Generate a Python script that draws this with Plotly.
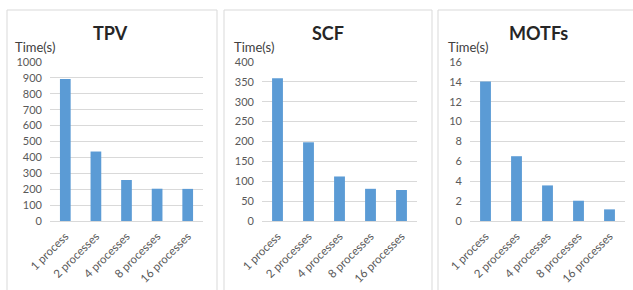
import plotly.graph_objects as go

W, H = 633, 290

categories = ["1 process", "2 processes", "4 processes", "8 processes", "16 processes"]
tpv_values = [893, 437, 258, 203, 202]
scf_values = [359, 198, 112, 81, 78]
motfs_values = [14.05, 6.52, 3.58, 2.04, 1.17]

titles = ["TPV", "SCF", "MOTFs"]
y_ranges = [(0, 1000, 100), (0, 400, 50), (0, 16, 2)]
series = [tpv_values, scf_values, motfs_values]

# pixel layout
plot_x = [(50, 203), (262, 417), (470, 625)]
plot_y_top, plot_y_bot = 62, 221
panel_x = [(7, 217), (224, 432), (438, 645)]
title_cx = [110, 328, 538]
ytitle_x = [13, 232, 446]

FONT = "Lato"
BAR = "#5B9BD5"
GRID = "#D9D9D9"
TXT = "#595959"

fig = go.Figure()
shapes = []
annotations = []
for i in range(3):
    xa = "x" if i == 0 else f"x{i+1}"
    ya = "y" if i == 0 else f"y{i+1}"
    fig.add_trace(go.Bar(x=categories, y=series[i], xaxis=xa, yaxis=ya,
                         marker=dict(color=BAR, line=dict(width=0)),
                         width=0.35, showlegend=False, hoverinfo="skip"))
    x0, x1 = plot_x[i]
    lo, hi, step = y_ranges[i]
    key_x = "xaxis" if i == 0 else f"xaxis{i+1}"
    key_y = "yaxis" if i == 0 else f"yaxis{i+1}"
    fig.layout[key_x] = dict(domain=[x0 / W, x1 / W], anchor=ya, automargin=False,
                             tickangle=-45, tickfont=dict(family=FONT, size=11.5, color=TXT),
                             ticklabelstandoff=3,
                             showgrid=False, showline=True, linecolor=GRID, linewidth=1,
                             ticks="", fixedrange=True)
    fig.layout[key_y] = dict(domain=[(H - plot_y_bot) / H, (H - plot_y_top) / H], anchor=xa,
                             automargin=False,
                             range=[lo, hi], dtick=step, tick0=0,
                             tickfont=dict(family=FONT, size=11, color=TXT),
                             ticklabelstandoff=7,
                             showgrid=True, gridcolor=GRID, gridwidth=1,
                             zeroline=False, showline=False, ticks="", ticklen=0,
                             fixedrange=True)
    px0, px1 = panel_x[i]
    shapes.append(dict(type="rect", xref="paper", yref="paper",
                       x0=px0 / W, x1=px1 / W, y0=-0.1, y1=(H - 10) / H,
                       line=dict(color=GRID, width=1), fillcolor="rgba(0,0,0,0)", layer="below"))
    annotations.append(dict(text=f"<b>{titles[i]}</b>", xref="paper", yref="paper",
                            x=title_cx[i] / W, y=(H - 33) / H, xanchor="center", yanchor="middle",
                            showarrow=False, font=dict(family=FONT, size=18, color="#262626")))
    annotations.append(dict(text="Time(s)", xref="paper", yref="paper",
                            x=ytitle_x[i] / W, y=(H - 47) / H, xanchor="left", yanchor="middle",
                            showarrow=False, font=dict(family=FONT, size=13, color="#404040")))

fig.update_layout(width=W, height=H, margin=dict(l=0, r=0, t=0, b=0),
                  paper_bgcolor="white", plot_bgcolor="white",
                  bargap=0.65, shapes=shapes, annotations=annotations)

fig.write_html("out.html", config={"displayModeBar": False, "staticPlot": True},
               post_script="document.body.style.margin='0';document.body.style.overflow='hidden';")
